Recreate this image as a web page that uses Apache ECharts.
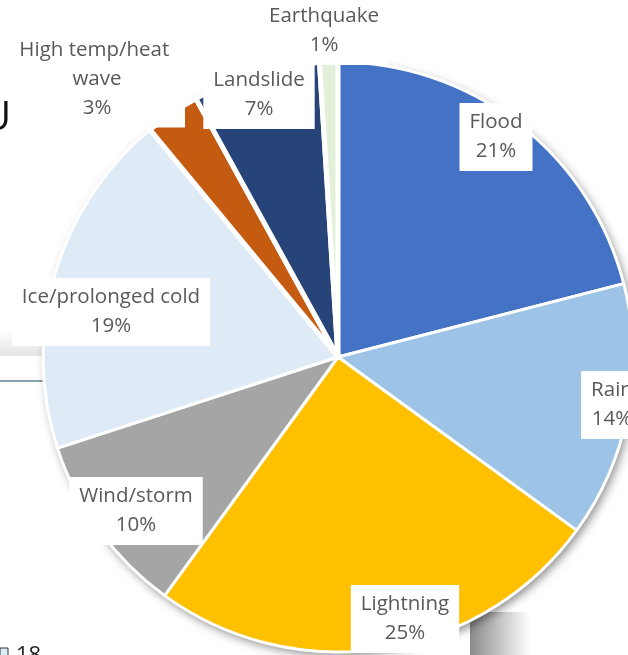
<!DOCTYPE html>
<html>
<head>
<meta charset="utf-8">
<script src="https://cdn.jsdelivr.net/npm/echarts@6/dist/echarts.min.js"></script>
<style>
  html, body { margin: 0; padding: 0; background: #fff; }
  #chart { width: 628px; height: 655px; }
</style>
</head>
<body>
<div id="chart"></div>
<script>
// Weather hazard categories, clockwise from 12 o'clock
const categories = ['Flood', 'Rain', 'Lightning', 'Wind/storm', 'Ice/prolonged cold',
                    'High temp/heat wave', 'Landslide', 'Earthquake'];
// Share of events (%)
const shares = [21, 14, 25, 10, 19, 3, 7, 1];
// Slice colours
const sliceColors = ['#4472C4', '#9DC3E6', '#FFC000', '#A5A5A5', '#DEEBF7',
                     '#C55A11', '#264478', '#E2F0D9'];
// Small slices drawn with a wider white gap around them
const pulledOut = ['High temp/heat wave', 'Landslide', 'Earthquake'];
// Label anchor points (centre of each label box, px)
const labelAnchors = [[496, 137], [612, 405], [405, 619], [136, 511], [111, 312],
                      [97, 79], [259, 95], [324, 31]];

const PIE_CENTER = [338, 357];
const PIE_RADIUS = 295;

const chart = echarts.init(document.getElementById('chart'), null, { renderer: 'canvas' });

const pieData = categories.map((name, i) => {
  const item = {
    name: name,
    value: shares[i],
    itemStyle: { color: sliceColors[i] }
  };
  if (pulledOut.indexOf(name) >= 0) {
    item.itemStyle.borderWidth = 5;
  }
  if (name === 'High temp/heat wave') {
    item.label = { width: 156, overflow: 'break' };
  }
  return item;
});

chart.setOption({
  animation: false,
  backgroundColor: '#ffffff',
  graphic: [
    // fragments of the surrounding slide behind the chart
    { type: 'text', x: -18, y: 99, z: 0, silent: true,
      style: { text: 'U', fontSize: 40, fontFamily: 'Open Sans', fill: '#111' } },
    { type: 'rect', z: 0, silent: true, shape: { x: 0, y: 330, width: 44, height: 26 },
      style: { fill: new echarts.graphic.LinearGradient(0, 0, 0, 1,
        [{ offset: 0, color: '#ffffff' }, { offset: 1, color: '#e4e4e4' }]) } },
    { type: 'line', z: 0, silent: true, shape: { x1: 0, y1: 381, x2: 44, y2: 381 },
      style: { stroke: '#5f7f8f', lineWidth: 1.5 } },
    { type: 'rect', z: 0, silent: true, shape: { x: 470, y: 612, width: 60, height: 43 },
      style: { fill: new echarts.graphic.LinearGradient(0, 0, 1, 0,
        [{ offset: 0, color: '#8a8a8a' }, { offset: 1, color: '#ffffff' }]) } },
    { type: 'text', x: 16, y: 645, z: 0, silent: true,
      style: { text: '18', fontSize: 22, fontFamily: 'Open Sans', fill: '#222' } },
    { type: 'rect', z: 0, silent: true, shape: { x: 0, y: 648, width: 8, height: 8 },
      style: { fill: '#d8eef5', stroke: '#333', lineWidth: 1 } }
  ],
  series: [
    {
      // soft drop shadow under the whole pie
      type: 'pie',
      z: 1,
      silent: true,
      center: PIE_CENTER,
      radius: PIE_RADIUS,
      label: { show: false },
      labelLine: { show: false },
      emphasis: { disabled: true },
      data: [{ value: 1, itemStyle: { color: '#ffffff', shadowBlur: 10,
        shadowColor: 'rgba(0,0,0,0.45)', shadowOffsetX: 3, shadowOffsetY: 4 } }]
    },
    {
      type: 'pie',
      z: 2,
      center: PIE_CENTER,
      radius: PIE_RADIUS,
      startAngle: 90,
      clockwise: true,
      percentPrecision: 0,
      avoidLabelOverlap: false,
      emphasis: { disabled: true },
      itemStyle: { borderColor: '#ffffff', borderWidth: 3 },
      label: {
        show: true,
        position: 'inside',
        formatter: '{b}\n{d}%',
        color: '#595959',
        fontFamily: 'Open Sans',
        fontSize: 20.5,
        lineHeight: 29,
        align: 'center',
        backgroundColor: '#ffffff',
        padding: [5, 10]
      },
      labelLine: { show: false },
      labelLayout: function (params) {
        const p = labelAnchors[params.dataIndex];
        return { x: p[0], y: p[1], align: 'center', verticalAlign: 'middle' };
      },
      data: pieData
    }
  ]
});
</script>
</body>
</html>
